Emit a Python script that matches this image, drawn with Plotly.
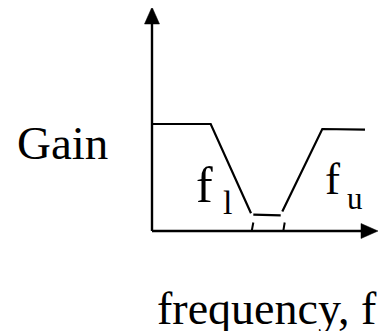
import plotly.graph_objects as go

# Band-stop gain sketch (arbitrary units: origin at axes corner)
freq = [0.0, 5.87, 9.9, None, 10.13, 12.87, None, 13.03, 17.03, 21.3]
gain = [10.7, 10.7, 1.77, None, 1.63, 1.57, None, 1.95, 10.2, 10.13]
# small slanted ticks at the band edges
tick_x0 = [9.97, 13.13]
tick_x1 = [10.13, 13.27]
tick_top = 0.85

x_axis_end = 21.0   # where x-axis arrowhead begins
y_axis_end = 20.8   # where y-axis arrowhead begins
arrow_len = 1.6
arrow_half = 0.75

FONT = "Liberation Serif, Times New Roman, serif"

fig = go.Figure()
fig.add_trace(go.Scatter(x=freq, y=gain, mode="lines",
                         line=dict(color="black", width=2.2),
                         connectgaps=False, hoverinfo="skip", showlegend=False))
for a, b in zip(tick_x0, tick_x1):
    fig.add_trace(go.Scatter(x=[a, b], y=[0, tick_top], mode="lines",
                             line=dict(color="black", width=2), hoverinfo="skip",
                             showlegend=False))

# axes lines
fig.add_shape(type="line", x0=0, y0=0, x1=x_axis_end, y1=0,
              line=dict(color="black", width=2.4))
fig.add_shape(type="line", x0=0, y0=0, x1=0, y1=y_axis_end,
              line=dict(color="black", width=2.4))
# arrowheads
fig.add_shape(type="path",
              path=f"M {x_axis_end-0.1} {arrow_half} L {x_axis_end+arrow_len} 0 L {x_axis_end-0.1} {-arrow_half} Z",
              fillcolor="black", line=dict(color="black", width=0.5))
fig.add_shape(type="path",
              path=f"M {-arrow_half} {y_axis_end-0.1} L 0 {y_axis_end+arrow_len} L {arrow_half} {y_axis_end-0.1} Z",
              fillcolor="black", line=dict(color="black", width=0.5))

def txt(x, y, s, size, anchor="left"):
    fig.add_annotation(x=x, y=y, text=s, showarrow=False, xanchor=anchor,
                       yanchor="middle", font=dict(family=FONT, size=size, color="black"))

txt(-13.7, 8.85, "Gain", 47)
txt(4.2, 4.6, "f", 50)
txt(6.9, 2.9, "l", 34)
txt(17.1, 5.2, "f", 45)
txt(19.3, 3.3, "u", 31)
txt(0.3, -7.7, "frequency, f", 46)

fig.update_layout(
    width=390, height=331,
    margin=dict(l=0, r=0, t=0, b=0),
    paper_bgcolor="white", plot_bgcolor="white",
    # page body adds an 8px offset, so ranges are shifted to compensate
    xaxis=dict(range=[-14.4, 24.6], visible=False, fixedrange=True),
    yaxis=dict(range=[-10.8, 22.3], visible=False, fixedrange=True),
)
fig.write_html("out.html")
